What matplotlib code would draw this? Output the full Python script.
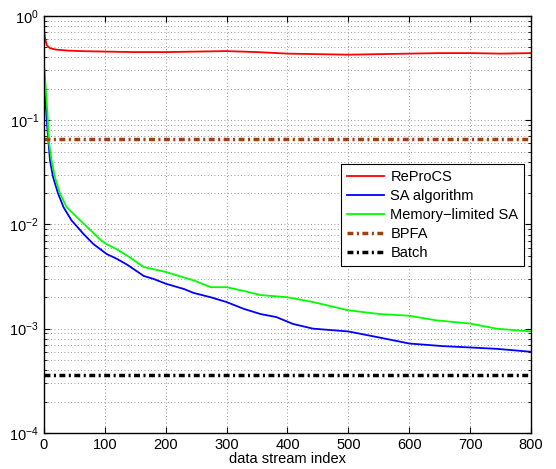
import numpy as np
import matplotlib
matplotlib.use('Agg')
import matplotlib.pyplot as plt
from matplotlib.ticker import LogLocator, FixedLocator

plt.rcParams['font.family'] = ['Liberation Sans', 'DejaVu Sans']
plt.rcParams['mathtext.default'] = 'regular'
plt.rcParams['font.size'] = 10.5

# ReProCS
red_x = [0, 2, 5, 10, 20, 40, 60, 100, 150, 200, 250, 300, 350, 400, 450, 500, 550, 600, 650, 700, 750, 800]
red_y = [0.75, 0.6, 0.52, 0.49, 0.475, 0.465, 0.46, 0.455, 0.45, 0.45, 0.455, 0.46, 0.45, 0.435, 0.43, 0.425,
         0.43, 0.435, 0.44, 0.44, 0.435, 0.44]

# SA algorithm
blue_x = [1, 3, 5.5, 10, 15, 23, 32, 45, 65, 81, 103, 119, 137, 164, 180, 200, 230,
          246, 274, 300, 328, 356, 382, 409, 442, 500, 552, 600, 655, 700, 744, 800]
blue_y = [0.19, 0.14, 0.086, 0.041, 0.0285, 0.02, 0.0147, 0.011, 0.0081, 0.0065, 0.0052, 0.0047, 0.0041,
          0.0032, 0.003, 0.0027, 0.0024, 0.0022, 0.002, 0.0018, 0.00155, 0.00138, 0.00129, 0.00111, 0.001,
          0.00094, 0.00082, 0.00072, 0.00068, 0.00066, 0.00064, 0.0006]

# Memory-limited SA
green_x = [1, 3, 5.5, 8, 12.6, 18, 26, 37, 48, 65, 92, 100, 119, 137, 164, 200, 246, 274, 300, 328, 356,
           400, 442, 500, 552, 600, 645, 700, 743, 800]
green_y = [0.31, 0.2, 0.125, 0.064, 0.041, 0.0285, 0.02, 0.0147, 0.0127, 0.0102, 0.0072, 0.0066, 0.0058,
           0.005, 0.0039, 0.0035, 0.0029, 0.0025, 0.0025, 0.0023, 0.0021, 0.002, 0.0018, 0.0015, 0.00138,
           0.00133, 0.0012, 0.00112, 0.001, 0.00094]

bpfa_val = 0.066
batch_val = 3.6e-4
x_range = [0, 800]

fig = plt.figure(figsize=(5.56, 4.69), dpi=100)
ax = fig.add_axes([0.079, 0.077, 0.876, 0.889])

ax.semilogy(red_x, red_y, color='#ff0000', lw=1.3, label='ReProCS')
ax.semilogy(blue_x, blue_y, color='#0000ff', lw=1.3, label='SA algorithm')
ax.semilogy(green_x, green_y, color='#00ff00', lw=1.3, label='Memory\u2212limited SA')
ax.semilogy(x_range, [bpfa_val, bpfa_val], color='#a0400f', lw=2.5,
            linestyle=(0, (1.7, 1.0, 0.6, 1.0)), label='BPFA')
ax.semilogy(x_range, [batch_val, batch_val], color='black', lw=2.5,
            linestyle=(0, (1.7, 1.0, 0.6, 1.0)), label='Batch')

ax.set_xlim(0, 800)
ax.set_ylim(1e-4, 1)
ax.xaxis.set_major_locator(FixedLocator(np.arange(0, 801, 100)))
ax.yaxis.set_major_locator(LogLocator(base=10, numticks=10))
ax.yaxis.set_minor_locator(LogLocator(base=10, subs=np.arange(2, 10), numticks=20))

ax.grid(True, which='major', color='0.45', linestyle=(0, (1, 3)), lw=0.6)
ax.grid(True, which='minor', axis='y', color='0.45', linestyle=(0, (1, 3)), lw=0.6)
ax.tick_params(which='both', direction='in', top=True, right=True)
ax.tick_params(which='major', length=4, labelsize=10.5)
ax.tick_params(which='minor', length=2)
for s in ax.spines.values():
    s.set_linewidth(1.0)

ax.set_xlabel('data stream index', labelpad=0)

leg = ax.legend(loc='upper right', bbox_to_anchor=(0.986, 0.645), fancybox=False, framealpha=1,
                edgecolor='black', handlelength=2.6, borderaxespad=0, labelspacing=0.35,
                handletextpad=0.4, borderpad=0.4)
leg.get_frame().set_linewidth(0.8)

fig.savefig('out.png', dpi=100)
